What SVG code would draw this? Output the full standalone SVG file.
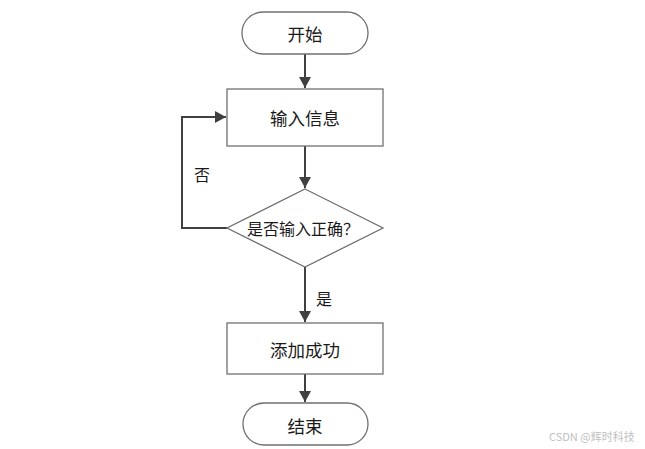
<svg xmlns="http://www.w3.org/2000/svg" width="645" height="449" viewBox="0 0 645 449">
<style>
.shape{fill:#fff;stroke:#707070;stroke-width:1.3}
.line{fill:none;stroke:#404040;stroke-width:2}
.t{font-family:"Noto Sans CJK SC","Liberation Sans",sans-serif;font-size:17.5px;fill:#1a1a1a;text-anchor:middle;dominant-baseline:central}
.l{font-family:"Noto Sans CJK SC","Liberation Sans",sans-serif;font-size:16px;fill:#1a1a1a;text-anchor:middle;dominant-baseline:central}
.wm{font-family:"Noto Sans CJK SC","Liberation Sans",sans-serif;font-size:11px;fill:#c0c0c0}
</style>
<defs>
<marker id="arr" markerWidth="12" markerHeight="12" refX="11" refY="6" orient="auto" markerUnits="userSpaceOnUse">
<path d="M0,0 L11,6 L0,12 Z" fill="#404040"/>
</marker>
</defs>
<rect width="645" height="449" fill="#fff"/>
<g id="connectors">
<line class="line" x1="305" y1="54" x2="305" y2="88" marker-end="url(#arr)"/>
<line class="line" x1="305" y1="146" x2="305" y2="188" marker-end="url(#arr)"/>
<polyline class="line" points="227,228 182,228 182,117 226,117" marker-end="url(#arr)"/>
<line class="line" x1="305" y1="267" x2="305" y2="322" marker-end="url(#arr)"/>
<line class="line" x1="305" y1="374" x2="305" y2="402" marker-end="url(#arr)"/>
<text class="l" x="202" y="174">否</text>
<text class="l" x="324" y="298">是</text>
</g>
<g id="start">
<rect class="shape" x="242" y="12" width="126" height="42" rx="21"/>
<text class="t" x="305" y="33">开始</text>
</g>
<g id="input">
<rect class="shape" x="227" y="89" width="156" height="57"/>
<text class="t" x="305" y="117">输入信息</text>
</g>
<g id="check">
<polygon class="shape" points="305,189 383,228 305,267 227,228"/>
<text class="l" x="303" y="228">是否输入正确？</text>
</g>
<g id="success">
<rect class="shape" x="227" y="323" width="156" height="51"/>
<text class="t" x="305" y="349">添加成功</text>
</g>
<g id="end">
<rect class="shape" x="243" y="403" width="125" height="42" rx="21"/>
<text class="t" x="305" y="425">结束</text>
</g>
<text class="wm" x="549" y="441">CSDN @辉时科技</text>
</svg>
